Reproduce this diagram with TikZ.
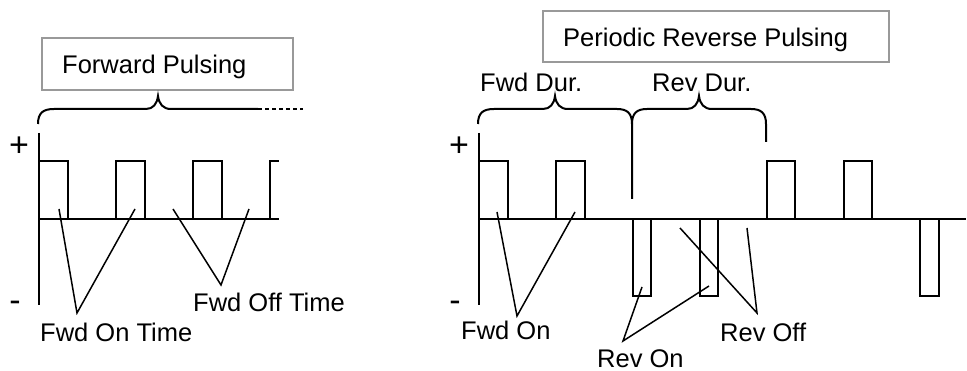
\documentclass[tikz,border=0pt]{standalone}
\usepackage{fontspec}
\setmainfont{Liberation Sans}
\begin{document}
\begin{tikzpicture}[x=1pt,y=-1pt,
  lbl/.style={inner sep=0pt,anchor=base west,font=\fontsize{25.5}{30}\selectfont},
  sign/.style={inner sep=0pt,anchor=center,font=\fontsize{34}{40}\selectfont},
  titlebox/.style={draw=black!40,line width=1.8pt,fill=white},
  pulse/.style={line width=2.8pt,line join=miter},
  thin/.style={line width=1.3pt},
  lead/.style={line width=1.5pt},
  bracel/.style={line width=2pt}]
\useasboundingbox (0,0) rectangle (967,371);
% ---------- Left panel ----------
\node[titlebox,minimum width=251pt,minimum height=52pt,inner sep=0pt] (fbox) at (167.5,64) {};
\node[lbl] (ftitle) at (62,74) {Forward Pulsing};
\draw[bracel] (38,124) .. controls (38,113) and (43,109) .. (54,109) -- (146,109)
  .. controls (153,109) and (157,104) .. (158,96) .. controls (159,104) and (163,109) .. (171,109) -- (258,109);
\draw[bracel,dash pattern=on 4pt off 3pt] (258,109) -- (303,109);
\coordinate (ax1t) at (39,133); \coordinate (ax1b) at (39,305);
\draw[thin] (ax1t) -- (ax1b);
\coordinate (bl1a) at (39,219); \coordinate (bl1b) at (279,219);
\draw[thin] (bl1a) -- (bl1b);
\node[sign] (plus1) at (19,147) {+};
\node[sign] (minus1) at (15,306.5) {-};
\draw[pulse] (39,219) -- (39,161) -- (68,161) -- (68,219) -- (116,219) -- (116,161) -- (145,161) -- (145,219)
  -- (193,219) -- (193,161) -- (222,161) -- (222,219) -- (270,219) -- (270,161) -- (279,161);
\node[lbl] (fon) at (40,342) {Fwd On Time};
\node[lbl] (foff) at (193,312) {Fwd Off Time};
\coordinate (fonp) at (77,313);
\coordinate (foffp) at (221,285);
\draw[lead] (59,209) -- (fonp) -- (135,209);
\draw[lead] (173,209) -- (foffp) -- (249,209);
% ---------- Right panel ----------
\node[titlebox,minimum width=346pt,minimum height=51pt,inner sep=0pt] (rbox) at (716,36.5) {};
\node[lbl] (rtitle) at (563,47) {Periodic Reverse Pulsing};
\node[lbl] (fdur) at (480,92) {Fwd Dur.};
\node[lbl] (rdur) at (652,92) {Rev Dur.};
\draw[bracel] (478,124) .. controls (478,113) and (483,109) .. (494,109) -- (543,109)
  .. controls (550,109) and (554,104) .. (555,96) .. controls (556,104) and (560,109) .. (568,109) -- (617,109)
  .. controls (627,109) and (632,113) .. (632,124) -- (632,199);
\draw[bracel] (632,124) .. controls (632,113) and (637,109) .. (647,109) -- (687,109)
  .. controls (694,109) and (698,104) .. (699,96) .. controls (700,104) and (704,109) .. (712,109) -- (751,109)
  .. controls (761,109) and (766,113) .. (766,124) -- (766,142);
\coordinate (ax2t) at (479,133); \coordinate (ax2b) at (479,305);
\draw[thin] (ax2t) -- (ax2b);
\coordinate (bl2a) at (479,219); \coordinate (bl2b) at (966,219);
\draw[thin] (bl2a) -- (bl2b);
\node[sign] (plus2) at (459,147) {+};
\node[sign] (minus2) at (455,306.5) {-};
\draw[pulse] (479,219) -- (479,161) -- (508,161) -- (508,219) -- (556,219) -- (556,161) -- (585,161) -- (585,219)
  -- (633,219) -- (633,296) -- (651,296) -- (651,219) -- (700,219) -- (700,296) -- (718,296) -- (718,219)
  -- (767,219) -- (767,161) -- (795,161) -- (795,219) -- (844,219) -- (844,161) -- (872,161) -- (872,219)
  -- (920,219) -- (920,296) -- (939,296) -- (939,219) -- (950,219);
\node[lbl] (ron0) at (461,340) {Fwd On};
\node[lbl] (revon) at (597,367.5) {Rev On};
\node[lbl] (revoff) at (720,342) {Rev Off};
\coordinate (fon2p) at (517,316);
\coordinate (revonp) at (623,341);
\coordinate (revoffp) at (757,313);
\draw[lead] (497,212) -- (fon2p) -- (575,212);
\draw[lead] (642,287) -- (revonp) -- (709,286);
\draw[lead] (680,228) -- (revoffp) -- (747,228);
\end{tikzpicture}
\end{document}
